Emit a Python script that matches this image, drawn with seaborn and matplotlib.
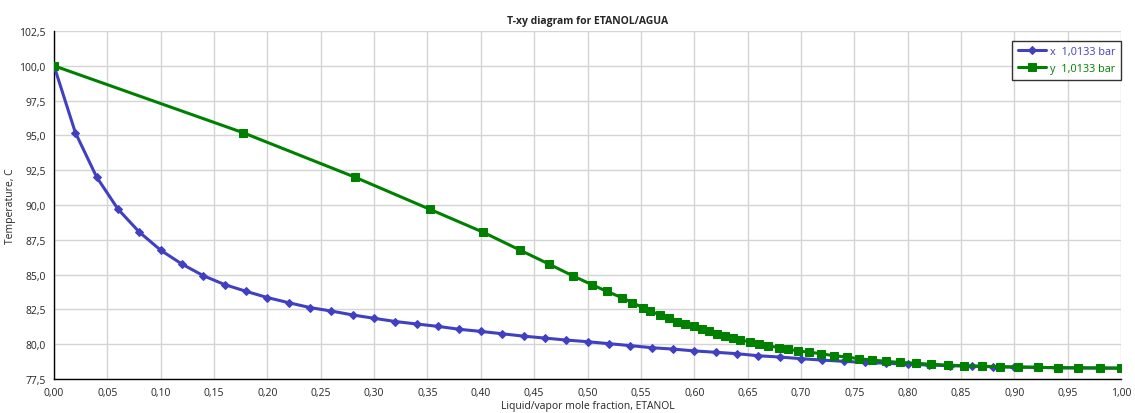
import numpy as np
import pandas as pd
import matplotlib
matplotlib.use("Agg")
import matplotlib.pyplot as plt
import seaborn as sns
from matplotlib.ticker import FuncFormatter, MultipleLocator

# DATA
x_liq = [round(0.02 * i, 2) for i in range(51)]
y_vap = [0.0, 0.177, 0.282, 0.352, 0.402, 0.437, 0.464, 0.486, 0.504, 0.518,
         0.532, 0.542, 0.552, 0.559, 0.568, 0.576, 0.584, 0.591, 0.600, 0.607,
         0.614, 0.621, 0.629, 0.636, 0.643, 0.652, 0.661, 0.669, 0.679, 0.688,
         0.697, 0.708, 0.719, 0.731, 0.743, 0.754, 0.767, 0.780, 0.793, 0.808,
         0.822, 0.838, 0.853, 0.870, 0.887, 0.903, 0.922, 0.941, 0.960, 0.980,
         1.0]
temp = [100.0, 95.2, 92.0, 89.7, 88.05, 86.75, 85.75, 84.92, 84.28, 83.8,
        83.35, 82.98, 82.63, 82.38, 82.1, 81.86, 81.63, 81.45, 81.28, 81.07,
        80.92, 80.75, 80.58, 80.44, 80.3, 80.18, 80.04, 79.9, 79.75, 79.65,
        79.52, 79.42, 79.32, 79.17, 79.08, 78.96, 78.86, 78.77, 78.69, 78.63,
        78.56, 78.5, 78.45, 78.42, 78.38, 78.36, 78.34, 78.31, 78.3, 78.29,
        78.28]

df_x = pd.DataFrame({"frac": x_liq, "T": temp})
df_y = pd.DataFrame({"frac": y_vap, "T": temp})

# STYLE
sns.set_style("white")
plt.rcParams['font.family'] = ['Open Sans', 'DejaVu Sans']

blue = "#4040c0"
green = "#008000"

fig = plt.figure(figsize=(11.35, 4.14), dpi=100)
ax = fig.add_axes([0.0476, 0.0821, 0.9401, 0.8406])

sns.lineplot(data=df_x, x="frac", y="T", sort=False, color=blue, lw=2.2,
             marker="D", markersize=4.5, markeredgecolor=blue,
             label="x  1,0133 bar", ax=ax, zorder=3)
sns.lineplot(data=df_y, x="frac", y="T", sort=False, color=green, lw=2.2,
             marker="s", markersize=6, markeredgecolor=green,
             label="y  1,0133 bar", ax=ax, zorder=4)

ax.set_xlim(0, 1)
ax.set_ylim(77.5, 102.5)
ax.xaxis.set_major_locator(MultipleLocator(0.05))
ax.yaxis.set_major_locator(MultipleLocator(2.5))
ax.xaxis.set_major_formatter(FuncFormatter(lambda v, p: f"{v:.2f}".replace(".", ",")))
ax.yaxis.set_major_formatter(FuncFormatter(lambda v, p: f"{v:.1f}".replace(".", ",")))

ax.grid(True, color="#d4d4d4", lw=1)
ax.set_axisbelow(True)
for s in ["top", "right"]:
    ax.spines[s].set_visible(False)
for s in ["left", "bottom"]:
    ax.spines[s].set_color("black")
    ax.spines[s].set_linewidth(1)

ax.tick_params(axis="both", which="major", direction="out", length=4,
               width=1, color="black", labelsize=7.5, pad=2)

ax.set_title("T-xy diagram for ETANOL/AGUA", fontsize=7.5, fontweight="bold", pad=6)
ax.set_xlabel("Liquid/vapor mole fraction, ETANOL", fontsize=7.5, labelpad=1)
ax.set_ylabel("Temperature, C", fontsize=7.5, labelpad=2)

leg = ax.legend(loc="upper right", bbox_to_anchor=(1.0, 0.972), fontsize=7.8,
                frameon=True, fancybox=False, edgecolor="black",
                borderaxespad=0, borderpad=0.5, handlelength=2.6,
                handletextpad=0.4, labelspacing=0.55)
leg.get_frame().set_linewidth(1)
for t, c in zip(leg.get_texts(), [blue, green]):
    t.set_color(c)

plt.savefig("out.png", dpi=100)
